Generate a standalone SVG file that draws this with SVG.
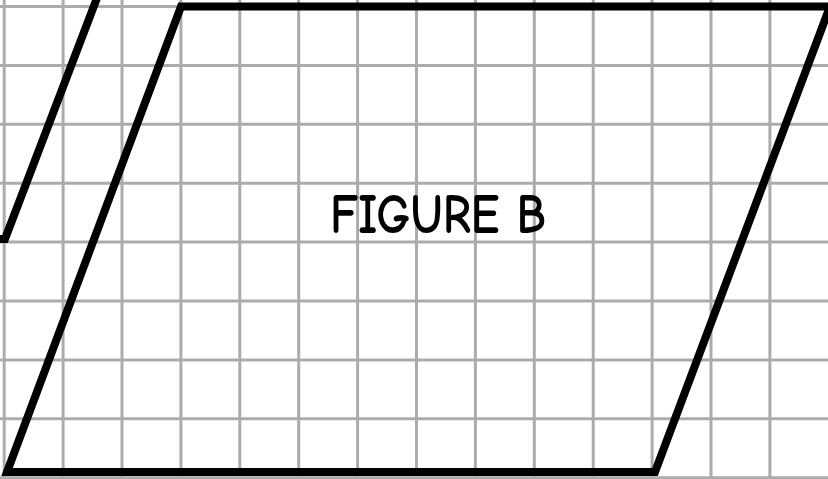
<svg xmlns="http://www.w3.org/2000/svg" width="828" height="479" viewBox="0 0 828 479">
<style>
.grid line{stroke:#ababab;stroke-width:3}
.shape{fill:none;stroke:#000;stroke-width:8;stroke-linejoin:miter;stroke-linecap:butt}
.label{font-family:"Comic Neue","Liberation Sans",sans-serif;font-size:56px;font-weight:700;fill:#000}
</style>
<rect width="828" height="479" fill="#fff"/>
<g class="grid" id="grid">
<line x1="4.2" y1="0" x2="4.2" y2="479"/>
<line x1="63.1" y1="0" x2="63.1" y2="479"/>
<line x1="122" y1="0" x2="122" y2="479"/>
<line x1="180.9" y1="0" x2="180.9" y2="479"/>
<line x1="239.8" y1="0" x2="239.8" y2="479"/>
<line x1="298.7" y1="0" x2="298.7" y2="479"/>
<line x1="357.6" y1="0" x2="357.6" y2="479"/>
<line x1="416.5" y1="0" x2="416.5" y2="479"/>
<line x1="475.4" y1="0" x2="475.4" y2="479"/>
<line x1="534.3" y1="0" x2="534.3" y2="479"/>
<line x1="593.2" y1="0" x2="593.2" y2="479"/>
<line x1="652.1" y1="0" x2="652.1" y2="479"/>
<line x1="711" y1="0" x2="711" y2="479"/>
<line x1="769.9" y1="0" x2="769.9" y2="479"/>
<line x1="0" y1="6.5" x2="828" y2="6.5"/>
<line x1="0" y1="65.4" x2="828" y2="65.4"/>
<line x1="0" y1="124.3" x2="828" y2="124.3"/>
<line x1="0" y1="183.2" x2="828" y2="183.2"/>
<line x1="0" y1="242.1" x2="828" y2="242.1"/>
<line x1="0" y1="301" x2="828" y2="301"/>
<line x1="0" y1="359.9" x2="828" y2="359.9"/>
<line x1="0" y1="418.8" x2="828" y2="418.8"/>
<line x1="0" y1="477.7" x2="828" y2="477.7"/>
</g>
<g id="figure-b">
<polygon class="shape" points="181,6.5 830,6.5 655,472 7,472"/>
<text class="label" x="330" y="233" textLength="216" lengthAdjust="spacingAndGlyphs">FIGURE B</text>
</g>
<g id="figure-a-edge">
<polyline class="shape" points="97,-2 5,239 -4,239"/>
</g>
</svg>
